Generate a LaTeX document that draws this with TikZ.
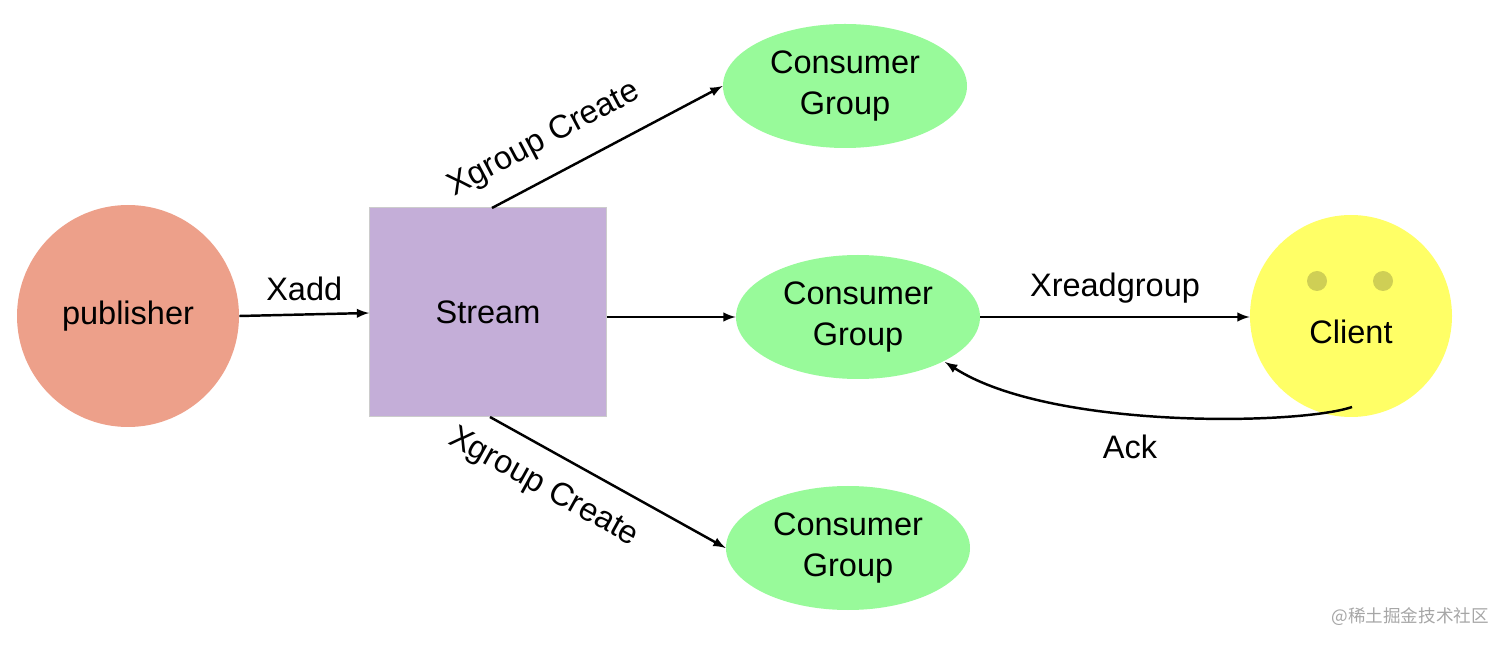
\documentclass[tikz,border=0pt]{standalone}
\usepackage{fontspec}
\setmainfont{Liberation Sans}
\newfontfamily\cjk{Noto Sans CJK SC}
\usetikzlibrary{shapes.geometric}
\begin{document}
\begin{tikzpicture}[x=0.02cm,y=-0.02cm,
  lbl/.style={font=\fontsize{18.5}{23}\selectfont},
  cg/.style={ellipse,fill=cgreen,minimum width=244*0.02cm,minimum height=124*0.02cm,align=center,font=\fontsize{18.5}{23}\selectfont,inner sep=0pt},
  arr/.style={-latex,line width=1.4pt}]
\definecolor{cgreen}{HTML}{98FA9A}
\definecolor{pub}{HTML}{EDA08A}
\definecolor{strm}{HTML}{C4AED8}
\definecolor{cli}{HTML}{FFFF66}
\definecolor{eye}{HTML}{CFCF55}
\useasboundingbox (0,0) rectangle (1512,648);
\node[circle,fill=pub,minimum size=222*0.02cm,inner sep=0pt,lbl] (pub) at (128,316) {publisher};
\node[rectangle,fill=strm,draw=gray!40,minimum width=237*0.02cm,minimum height=209*0.02cm,lbl] (st) at (488,312) {Stream};
\node[cg] (c1) at (845,86) {Consumer\\Group};
\node[cg] (c2) at (858,317) {Consumer\\Group};
\node[cg] (c3) at (848,548) {Consumer\\Group};
\node[circle,fill=cli,minimum size=202*0.02cm,inner sep=0pt] (cl) at (1351,316) {};
\node[lbl] (clt) at (1351,332) {Client};
\node[circle,fill=eye,minimum size=20*0.02cm,inner sep=0pt] (e1) at (1317,281) {};
\node[circle,fill=eye,minimum size=20*0.02cm,inner sep=0pt] (e2) at (1383,281) {};
\coordinate (ackS) at (1352,407);
\coordinate (ackE) at (945,362);
\coordinate (s1) at (492,208);
\coordinate (s3) at (490,417);
\draw[arr] (pub.east) -- node[above,lbl,yshift=4pt]{Xadd} (st.west |- 0,313);
\draw[arr] (st.east |- c2.west) -- (c2.west);
\draw[arr] (c2.east) -- node[above,lbl,yshift=4pt]{Xreadgroup} (cl.west |- c2.east);
\draw[arr] (s1) -- node[sloped,above,lbl,pos=0.3,yshift=8pt]{Xgroup Create} (c1.west);
\draw[arr] (s3) -- node[sloped,below,lbl,pos=0.3,yshift=-8pt]{Xgroup Create} (c3.west);
\draw[arr] (ackS) .. controls (1300,425) and (1050,430) .. (ackE);
\node[lbl] (ack) at (1130,447) {Ack};
\node[font=\cjk\fontsize{10}{12}\selectfont,text=gray!70,anchor=east] (wm) at (1495,617) {@稀土掘金技术社区};
\end{tikzpicture}
\end{document}
